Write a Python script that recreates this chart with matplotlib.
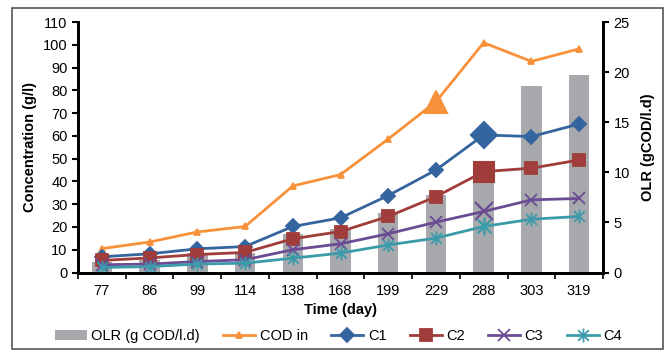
import matplotlib.pyplot as plt
import numpy as np
from matplotlib.patches import Rectangle
from matplotlib.path import Path

plt.rcParams['font.family'] = ['Liberation Sans', 'DejaVu Sans']

days = ['77', '86', '99', '114', '138', '168', '199', '229', '288', '303', '319']
olr = [1.0, 1.2, 1.9, 1.9, 3.8, 4.3, 5.9, 7.7, 9.8, 18.6, 19.7]
cod_in = [10.5, 13.4, 17.8, 20.2, 38.0, 43.0, 58.6, 75.0, 100.9, 92.7, 98.2]
c1 = [6.9, 8.2, 10.4, 11.4, 20.2, 24.0, 33.8, 45.0, 60.4, 59.7, 65.2]
c2 = [5.3, 6.4, 7.9, 8.8, 14.8, 18.0, 24.6, 33.3, 44.3, 45.8, 49.4]
c3 = [3.4, 3.7, 4.8, 5.6, 10.0, 12.6, 17.0, 22.1, 26.8, 31.9, 32.5]
c4 = [2.2, 2.6, 3.7, 4.1, 6.3, 8.5, 12.1, 15.1, 20.2, 23.4, 24.6]

x = np.arange(len(days))

# gwiazdka jak w Excelu: X + pionowa kreska
star = Path([(-1, -1), (1, 1), (-1, 1), (1, -1), (0, -1.3), (0, 1.3)],
            [Path.MOVETO, Path.LINETO] * 3)

fig = plt.figure(figsize=(6.66, 3.51), dpi=100)
fig.patches.append(Rectangle((12 / 666, 2 / 351), 651 / 666, 341 / 351,
                             transform=fig.transFigure, fill=False,
                             edgecolor='#555555', lw=1.2))

ax2 = fig.add_axes([78 / 666, 1 - 272.5 / 351, 525 / 666, 250.5 / 351])
ax = ax2.twinx()
# linie nad słupkami
ax.set_zorder(ax2.get_zorder() + 1)
ax.patch.set_visible(False)

bars = ax2.bar(x, olr, width=0.43, color='#a7a9ac', label='OLR (g COD/l.d)')
ax2.set_ylim(0, 25)
ax2.set_yticks(range(0, 26, 5))
ax2.yaxis.tick_right()
ax2.yaxis.set_label_position('right')

# ax jest osią stężeń - przenosimy ją na lewą stronę
ax.yaxis.tick_left()
ax.yaxis.set_label_position('left')
ax.set_ylim(0, 110)
ax.set_yticks(range(0, 111, 10))

series = [
    ('COD in', cod_in, '#f7923a', '^', 5, 7, 16),
    ('C1', c1, '#34659f', 'D', 7, 8, 13),
    ('C2', c2, '#a03c3a', 's', 9, 8, 15),
    ('C3', c3, '#6b4c94', 'x', 9, 8, 13),
    ('C4', c4, '#3b9bab', star, 10, 8, 13),
]
handles = [bars]
for name, vals, col, mk, ms, big_i, big_ms in series:
    h, = ax.plot(x, vals, color=col, marker=mk, markersize=ms, lw=2,
                 markeredgewidth=1.3, label=name)
    ax.plot(x[big_i], vals[big_i], marker=mk, markersize=big_ms, color=col,
            markeredgewidth=1.5, ls='none')
    handles.append(h)

ax.set_xlim(-0.5, len(days) - 0.5)
ax2.set_xticks(x)
ax2.set_xticklabels(days)
ax2.set_xticks(np.arange(-0.5, len(days)), minor=True)
ax2.tick_params(axis='x', which='major', length=0, labelsize=10.5, pad=8)
ax2.tick_params(axis='x', which='minor', length=4, width=1.2)
ax2.tick_params(axis='y', labelsize=10.5, length=4, width=1.5)
ax.tick_params(axis='y', labelsize=10.5, length=4, width=1.5)

for a in (ax, ax2):
    a.spines['top'].set_visible(False)
    for s in ('left', 'right', 'bottom'):
        a.spines[s].set_linewidth(2)

ax.set_ylabel('Concentration (g/l)', fontsize=10.5, fontweight='bold', labelpad=4)
ax2.set_ylabel('OLR (gCOD/l.d)', fontsize=10.5, fontweight='bold', labelpad=8)
ax2.set_xlabel('Time (day)', fontsize=10.5, fontweight='bold', labelpad=4)

fig.legend(handles=handles, loc='center', bbox_to_anchor=(0.508, 1 - 336 / 351),
           ncol=6, frameon=False, fontsize=10.5, handlelength=2.2,
           columnspacing=1.6, handletextpad=0.3)

fig.savefig('out.png', dpi=100)
